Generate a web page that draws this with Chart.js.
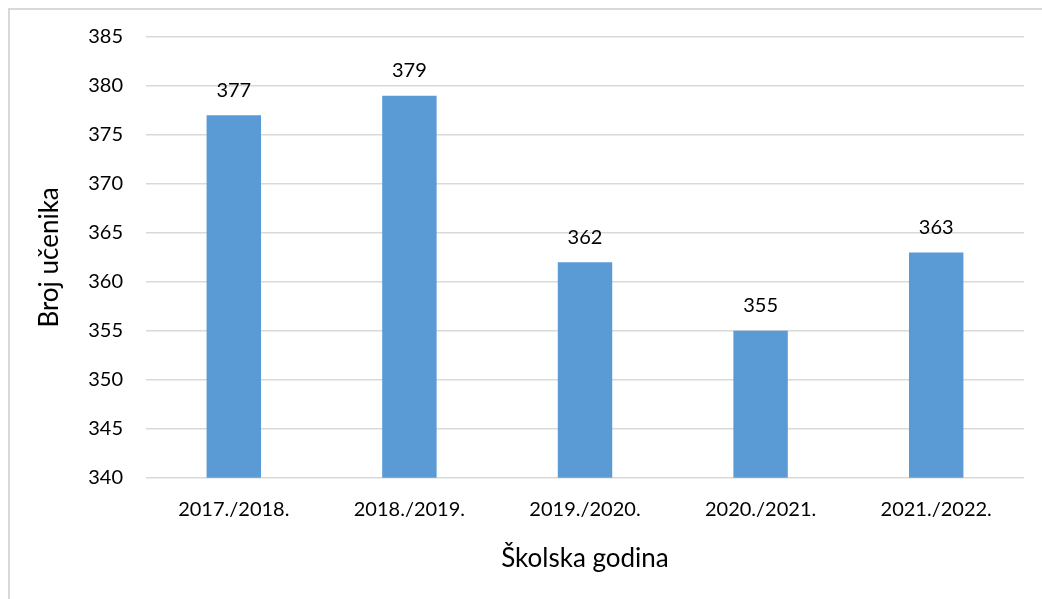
<!DOCTYPE html>
<html>
<head>
<meta charset="utf-8">
<script src="https://cdn.jsdelivr.net/npm/chart.js@4/dist/chart.umd.min.js"></script>
<style>
  body { margin: 0; background: #fff; }
  #frame { position: absolute; left: 8px; top: 8px; width: 1100px; height: 700px; border: 2px solid #d9d9d9; }
  #wrap { position: absolute; left: 0; top: 0; width: 1042px; height: 599px; }
</style>
</head>
<body>
<div id="frame"></div>
<div id="wrap"><canvas id="myChart"></canvas></div>
<script>
const years = ['2017./2018.', '2018./2019.', '2019./2020.', '2020./2021.', '2021./2022.'];
const students = [377, 379, 362, 355, 363];
const yMin = 340;
const yMax = 385;
const yStep = 5;

const fontFamily = 'Lato, "Open Sans", sans-serif';

// value labels above each bar
const barLabels = {
  id: 'barLabels',
  afterDatasetsDraw(chart) {
    const ctx = chart.ctx;
    const meta = chart.getDatasetMeta(0);
    ctx.save();
    ctx.fillStyle = '#000';
    ctx.font = '20px ' + fontFamily;
    ctx.textAlign = 'center';
    ctx.textBaseline = 'middle';
    meta.data.forEach((bar, i) => {
      ctx.fillText(students[i], bar.x, bar.y - 25);
    });
    ctx.restore();
  }
};

const myBarGraph = new Chart(document.getElementById('myChart'), {
  type: 'bar',
  data: {
    labels: years,
    datasets: [{
      data: students,
      backgroundColor: '#5b9bd5',
      categoryPercentage: 1,
      barPercentage: 0.31
    }]
  },
  options: {
    responsive: true,
    maintainAspectRatio: false,
    animation: false,
    layout: { padding: { left: 30, right: 18, top: 37, bottom: 21 } },
    plugins: { legend: { display: false }, tooltip: { enabled: false } },
    scales: {
      x: {
        grid: { display: false },
        border: { display: false },
        ticks: { color: '#000', font: { family: fontFamily, size: 20 }, padding: 12 },
        title: { display: true, text: 'Školska godina', color: '#000', font: { family: fontFamily, size: 26 }, padding: { top: 9 } }
      },
      y: {
        min: yMin,
        max: yMax,
        ticks: { stepSize: yStep, color: '#000', font: { family: fontFamily, size: 20 }, padding: 23 },
        grid: { color: '#d9d9d9', lineWidth: 1.5, drawTicks: false },
        border: { display: false },
        title: { display: true, text: 'Broj učenika', color: '#000', font: { family: fontFamily, size: 26 }, padding: { bottom: 0 } }
      }
    }
  },
  plugins: [barLabels]
});
</script>
</body>
</html>
